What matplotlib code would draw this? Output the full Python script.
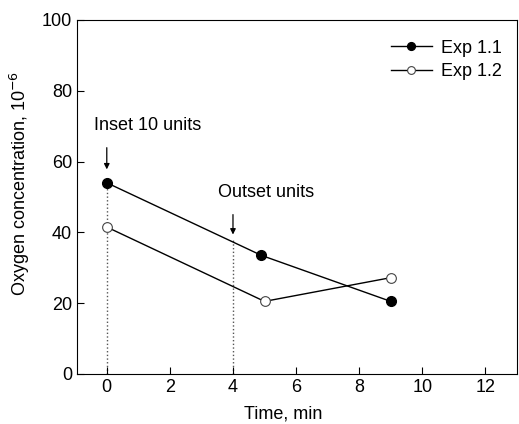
import matplotlib.pyplot as plt

# 数据
time_11 = [0, 4.9, 9]
conc_11 = [54, 33.5, 20.5]
time_12 = [0, 5, 9]
conc_12 = [41.5, 20.5, 27.2]
x_ticks = [0, 2, 4, 6, 8, 10, 12]
y_ticks = [0, 20, 40, 60, 80, 100]

plt.rcParams['font.family'] = ['Liberation Sans', 'DejaVu Sans']

fig = plt.figure(figsize=(5.19, 4.24), dpi=100)
ax = fig.add_axes([0.148, 0.118, 0.848, 0.835])

ax.plot(time_11, conc_11, '-o', color='black', lw=1, ms=7,
        mfc='black', label='Exp 1.1')
ax.plot(time_12, conc_12, '-o', color='black', lw=1, ms=7,
        mfc='white', mec='#444444', mew=0.8, label='Exp 1.2')

# 虚线和箭头
ax.plot([0, 0], [0, conc_11[0]], ':', color='#555555', lw=1, zorder=1)
ax.plot([4, 4], [0, 38.4], ':', color='#555555', lw=1, zorder=1)
ax.annotate('', xy=(0, 57), xytext=(0, 64.7),
            arrowprops=dict(arrowstyle='-|>', color='black', lw=0.9,
                            mutation_scale=8))
ax.annotate('', xy=(4, 38.6), xytext=(4, 45.8),
            arrowprops=dict(arrowstyle='-|>', color='black', lw=0.9,
                            mutation_scale=8))
ax.text(1.3, 70.2, 'Inset 10 units', ha='center', va='center', fontsize=13)
ax.text(5.05, 51.2, 'Outset units', ha='center', va='center', fontsize=13)

ax.set_xlim(-0.95, 13)
ax.set_ylim(0, 100)
ax.set_xticks(x_ticks)
ax.set_yticks(y_ticks)
ax.tick_params(direction='in', length=5, width=0.8, labelsize=13)
ax.set_xlabel('Time, min', fontsize=13)
ax.set_ylabel('Oxygen concentration, 10$^{-6}$', fontsize=13)
ax.xaxis.set_label_coords(0.468, -0.088)
ax.yaxis.set_label_coords(-0.102, 0.538)

leg = ax.legend(loc='upper right', frameon=False, fontsize=13,
                handlelength=2.3, handletextpad=0.5, markerscale=0.8,
                labelspacing=0.35, borderaxespad=0.3,
                bbox_to_anchor=(0.995, 0.98))

plt.savefig('out.png', dpi=100)
